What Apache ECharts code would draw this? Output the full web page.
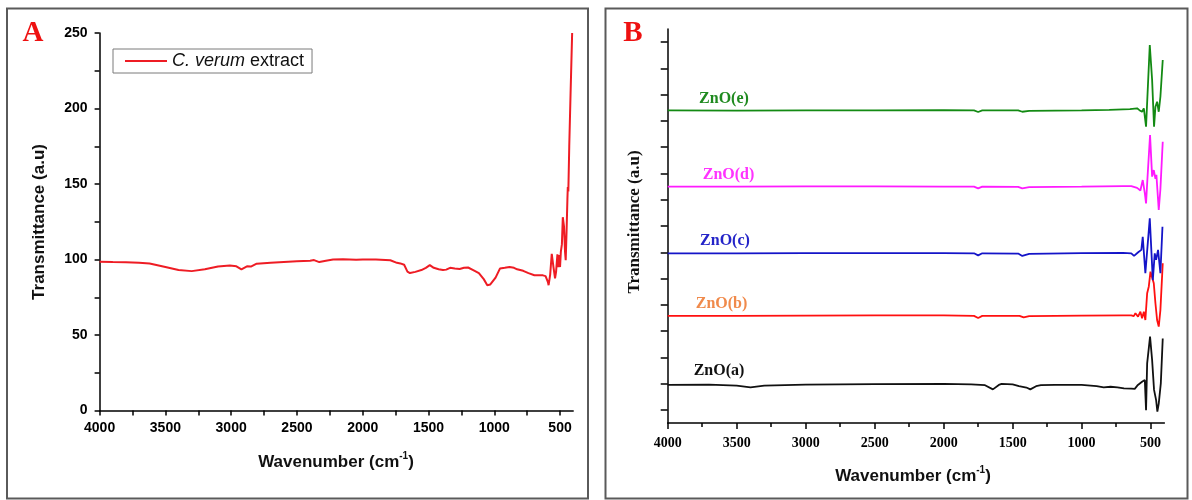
<!DOCTYPE html>
<html>
<head>
<meta charset="utf-8">
<script src="https://cdn.jsdelivr.net/npm/echarts@6/dist/echarts.min.js"></script>
<style>
html,body{margin:0;padding:0;background:#fff;}
#chart{width:1192px;height:500px;}
</style>
</head>
<body>
<div id="chart"></div>
<script>
// ---------- DATA ----------
// Panel A: C. verum extract [wavenumber, transmittance]
const extractData = [
  [4000,98.5],[3900,98.3],[3800,98.2],[3700,97.8],[3620,97.3],[3500,95],[3400,93],[3300,92.3],
  [3200,93.5],[3100,95.3],[3010,96],[2960,95.5],[2922,93.5],[2880,95.5],[2850,95.3],[2806,97.2],
  [2700,97.8],[2600,98.3],[2500,98.8],[2400,99.2],[2370,99.6],[2330,98.3],[2280,99.2],[2225,100],
  [2150,100.2],[2050,99.8],[2000,100],[1900,100],[1790,99.5],[1740,97.8],[1714,97.4],[1685,96.5],
  [1660,92],[1641,91],[1600,91.8],[1554,93],[1520,94.5],[1490,96.3],[1460,94.5],[1423,93.5],
  [1390,93],[1365,93.3],[1336,94.5],[1300,94],[1263,93.7],[1230,94.5],[1199,94.7],[1160,93],
  [1117,91],[1080,87],[1053,83],[1030,83.5],[1015,84.6],[990,88],[957,94],[920,94.5],[884,95],
  [850,94.5],[826,93.5],[780,92.5],[740,91],[695,89.6],[660,89.5],[630,89.5],[610,89],[600,89.5],
  [592,85],[587,83],[575,90],[563,103.8],[550,95],[538,87.5],[530,92],[520,103.5],[515,95],
  [508,103],[500,95],[494,105],[486,110],[479,128],[470,122],[462,105],[457,99.5],[450,120],
  [444,140],[441,148],[437,145],[430,175],[420,210],[408,250]
];
const extractName = 'C. verum extract';
const yTicksA = [0,50,100,150,200,250];

// Panel B: ZnO samples (offset arbitrary units) [wavenumber, value]
const znoA = [
  [4000,1.45],[3700,1.46],[3500,1.42],[3400,1.36],[3300,1.42],[3000,1.46],[2500,1.48],[2000,1.49],
  [1800,1.47],[1700,1.44],[1643,1.28],[1600,1.45],[1580,1.49],[1500,1.47],[1454,1.40],[1400,1.35],
  [1372,1.28],[1330,1.40],[1295,1.44],[1193,1.45],[1000,1.45],[891,1.40],[840,1.36],[790,1.38],
  [740,1.36],[693,1.32],[640,1.31],[615,1.30],[592,1.45],[562,1.57],[542,1.64],[533,0.49],
  [525,2.27],[504,3.29],[489,2.40],[475,1.26],[460,0.87],[451,0.43],[441,0.74],[426,1.51],[412,3.22]
];
const znoB = [
  [4000,4.08],[3500,4.08],[3000,4.09],[2500,4.1],[2000,4.1],[1780,4.08],[1750,4.0],[1720,4.08],
  [1450,4.08],[1420,4.02],[1380,4.07],[1000,4.09],[700,4.1],[640,4.1],[622,4.07],[610,4.18],
  [591,4.05],[574,4.24],[562,3.99],[549,4.24],[538,3.92],[525,4.94],[513,5.2],[501,5.76],
  [489,5.7],[477,5.32],[465,4.56],[453,3.92],[441,3.67],[429,4.30],[412,6.08]
];
const znoC = [
  [4000,6.46],[3500,6.46],[3000,6.47],[2500,6.47],[2000,6.47],[1780,6.46],[1750,6.38],[1720,6.46],
  [1460,6.45],[1430,6.36],[1380,6.44],[1000,6.47],[700,6.48],[640,6.46],[620,6.36],[610,6.40],
  [590,6.5],[567,6.59],[557,7.09],[538,5.70],[506,7.79],[484,5.44],[470,6.46],[460,6.21],
  [446,6.59],[429,5.70],[414,7.47]
];
const znoD = [
  [4000,9.0],[3500,9.0],[3000,9.01],[2500,9.01],[2000,9.0],[1780,9.0],[1750,8.93],[1720,9.0],
  [1460,8.99],[1430,8.93],[1380,8.98],[1000,9.0],[700,9.02],[640,9.02],[598,8.95],[574,8.85],
  [557,9.25],[542,8.75],[533,8.36],[523,9.3],[504,10.96],[489,9.38],[477,9.63],[465,9.3],
  [458,9.45],[441,8.11],[429,8.9],[412,10.71]
];
const znoE = [
  [4000,11.9],[3500,11.89],[3000,11.9],[2500,11.9],[2000,11.91],[1780,11.9],[1750,11.84],[1720,11.9],
  [1460,11.9],[1430,11.85],[1380,11.88],[1000,11.9],[800,11.92],[650,11.95],[598,11.98],[581,11.91],
  [562,11.85],[549,11.98],[533,11.28],[506,14.39],[489,13.06],[475,11.28],[465,12.04],[453,12.23],
  [441,11.85],[429,12.42],[412,13.82]
];
const znoNames = ['ZnO(a)','ZnO(b)','ZnO(c)','ZnO(d)','ZnO(e)'];
const znoLabelPos = [[3628,1.99],[3610,4.53],[3585,6.94],[3559,9.44],[3592,12.33]];
const xMajor = [4000,3500,3000,2500,2000,1500,1000,500];
const xMinor = [3750,3250,2750,2250,1750,1250,750];
const yTicksB = [0.5,1.5,2.5,3.5,4.5,5.5,6.5,7.5,8.5,9.5,10.5,11.5,12.5,13.5,14.5];

// ---------- CHART ----------
const lineColors = ['#111111','#ff1010','#1414c8','#ff1aff','#138a13'];
const labelColors = ['#111111','#f08a4b','#2424c8','#ff33ff','#1f8a1f'];
const sans = 'Liberation Sans, Arial, sans-serif';
const serif = 'Liberation Serif, Times New Roman, serif';

const chart = echarts.init(document.getElementById('chart'), null, {renderer:'canvas', width:1192, height:500});

function xAxisPair(gridIndex, fontFamily, majorLen, minorLen, margin) {
  return [
    {
      type:'value', gridIndex, min:400, max:4000, inverse:true, position:'bottom',
      axisLine:{show:true, onZero:false, lineStyle:{color:'#000', width:1.5}},
      axisTick:{show:true, customValues:xMajor, length:majorLen, lineStyle:{color:'#000', width:1.5}},
      axisLabel:{show:true, customValues:xMajor, margin, color:'#000', fontFamily, fontWeight:'bold', fontSize:14,
        formatter:function(v){ return String(v); }},
      splitLine:{show:false}
    },
    {
      type:'value', gridIndex, min:400, max:4000, inverse:true, position:'bottom',
      axisLine:{show:false},
      axisTick:{show:true, customValues:xMinor, length:minorLen, lineStyle:{color:'#000', width:1.5}},
      axisLabel:{show:false},
      splitLine:{show:false}
    }
  ];
}

const xAxes = xAxisPair(0, sans, 5, 5, 11).concat(xAxisPair(1, serif, 6, 4, 13));

const seriesB = [znoA, znoB, znoC, znoD, znoE].map((d, i) => ({
  type:'line', name:znoNames[i], xAxisIndex:2, yAxisIndex:1, data:d,
  symbol:'none', smooth:false,
  lineStyle:{color:lineColors[i], width:1.8},
  itemStyle:{color:lineColors[i]},
  markPoint:{
    symbol:'circle', symbolSize:1, silent:true,
    itemStyle:{color:'rgba(0,0,0,0)'},
    label:{show:true, position:'inside', formatter:znoNames[i], color:labelColors[i],
      fontFamily:serif, fontWeight:'bold', fontSize:16},
    data:[{coord:znoLabelPos[i]}]
  }
}));

const option = {
  animation:false,
  backgroundColor:'#ffffff',
  grid:[
    {left:99.6, top:33, width:473.6, height:377.5},
    {left:667.7, top:29, width:496.7, height:394}
  ],
  legend:{
    show:true, data:[extractName], left:113, top:49,
    padding:[3,8,3,12], itemGap:5, itemWidth:42, itemHeight:2, icon:'rect',
    borderColor:'#7a7a7a', borderWidth:1, borderRadius:0,
    formatter:function(){ return '{i|C. verum} extract'; },
    textStyle:{fontFamily:sans, fontSize:18, color:'#111',
      rich:{i:{fontFamily:sans, fontSize:18, fontStyle:'italic', color:'#111'}}}
  },
  xAxis:xAxes,
  yAxis:[
    {
      type:'value', gridIndex:0, min:0, max:250, interval:50,
      axisLine:{show:true, lineStyle:{color:'#000', width:1.5}},
      axisTick:{show:true, length:5, lineStyle:{color:'#000', width:1.5}},
      minorTick:{show:true, splitNumber:2, length:5, lineStyle:{color:'#000', width:1.5}},
      axisLabel:{show:true, margin:12, color:'#000', fontFamily:sans, fontWeight:'bold', fontSize:14},
      splitLine:{show:false}
    },
    {
      type:'value', gridIndex:1, min:0, max:15,
      axisLine:{show:true, lineStyle:{color:'#000', width:1.5}},
      axisTick:{show:true, customValues:yTicksB, length:7, lineStyle:{color:'#000', width:1.5}},
      axisLabel:{show:false},
      splitLine:{show:false}
    }
  ],
  series:[
    {
      type:'line', name:extractName, xAxisIndex:0, yAxisIndex:0, data:extractData,
      symbol:'none', lineStyle:{color:'#ee1c24', width:2}, itemStyle:{color:'#ee1c24'}
    }
  ].concat(seriesB),
  graphic:[
    {type:'rect', shape:{x:7, y:8.5, width:581, height:490}, style:{fill:'none', stroke:'#5a5a5a', lineWidth:2}, silent:true},
    {type:'rect', shape:{x:605.5, y:8.5, width:582, height:490}, style:{fill:'none', stroke:'#5a5a5a', lineWidth:2}, silent:true},
    {type:'text', x:33, y:34, style:{text:'A', font:'bold 29px ' + serif, fill:'#ee1111', align:'center', verticalAlign:'middle'}},
    {type:'text', x:633, y:34, style:{text:'B', font:'bold 29px ' + serif, fill:'#ee1111', align:'center', verticalAlign:'middle'}},
    {type:'text', x:39, y:222, rotation:Math.PI/2,
      style:{text:'Transmittance (a.u)', font:'bold 17px ' + sans, fill:'#111', align:'center', verticalAlign:'middle'}},
    {type:'text', x:635, y:222, rotation:Math.PI/2,
      style:{text:'Transmittance (a.u)', font:'bold 17px ' + serif, fill:'#111', align:'center', verticalAlign:'middle'}},
    {type:'text', x:336, y:462,
      style:{text:'{a|Wavenumber (cm}{s|-1}{a|)}', align:'center', verticalAlign:'middle', fill:'#111',
        rich:{a:{fontFamily:sans, fontWeight:'bold', fontSize:17, lineHeight:22, fill:'#111'},
              s:{fontFamily:sans, fontWeight:'bold', fontSize:10, lineHeight:22, verticalAlign:'top', fill:'#111'}}}},
    {type:'text', x:913, y:476,
      style:{text:'{a|Wavenumber (cm}{s|-1}{a|)}', align:'center', verticalAlign:'middle', fill:'#111',
        rich:{a:{fontFamily:sans, fontWeight:'bold', fontSize:17, lineHeight:22, fill:'#111'},
              s:{fontFamily:sans, fontWeight:'bold', fontSize:10, lineHeight:22, verticalAlign:'top', fill:'#111'}}}}
  ]
};
chart.setOption(option);
</script>
</body>
</html>
